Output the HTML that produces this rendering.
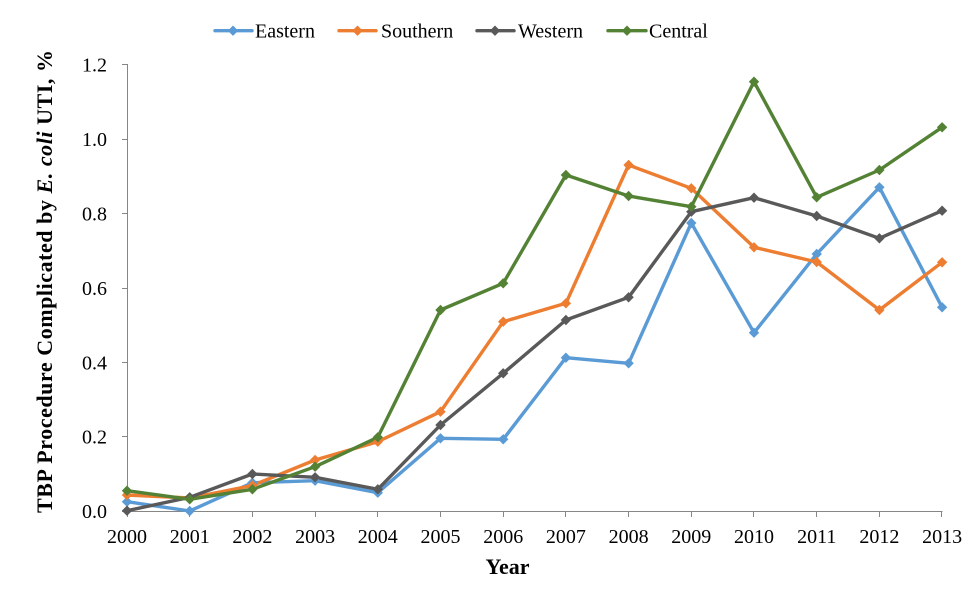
<!DOCTYPE html>
<html>
<head>
<meta charset="utf-8">
<style>
html,body{margin:0;padding:0;background:#fff;}
svg{display:block;}
text{font-family:"Liberation Serif","Times New Roman",serif;fill:#000;}
</style>
</head>
<body>
<svg width="975" height="616" viewBox="0 0 975 616" xmlns="http://www.w3.org/2000/svg">
<defs>
<path id="dm" d="M0,-5.2 L5.2,0 L0,5.2 L-5.2,0 Z"/>
</defs>
<rect width="975" height="616" fill="#fff"/>

<!-- axes -->
<g stroke="#868686" stroke-width="1" fill="none" shape-rendering="crispEdges">
<line x1="127.5" y1="64" x2="127.5" y2="511.5"/>
<line x1="127" y1="511.5" x2="942.5" y2="511.5"/>
<line x1="122" y1="64.5" x2="127" y2="64.5"/>
<line x1="122" y1="139.5" x2="127" y2="139.5"/>
<line x1="122" y1="213.5" x2="127" y2="213.5"/>
<line x1="122" y1="288.5" x2="127" y2="288.5"/>
<line x1="122" y1="362.5" x2="127" y2="362.5"/>
<line x1="122" y1="436.5" x2="127" y2="436.5"/>
<line x1="122" y1="511.5" x2="127" y2="511.5"/>
<line x1="127.5" y1="511" x2="127.5" y2="517"/>
<line x1="189.5" y1="511" x2="189.5" y2="517"/>
<line x1="252.5" y1="511" x2="252.5" y2="517"/>
<line x1="315.5" y1="511" x2="315.5" y2="517"/>
<line x1="377.5" y1="511" x2="377.5" y2="517"/>
<line x1="440.5" y1="511" x2="440.5" y2="517"/>
<line x1="503.5" y1="511" x2="503.5" y2="517"/>
<line x1="565.5" y1="511" x2="565.5" y2="517"/>
<line x1="628.5" y1="511" x2="628.5" y2="517"/>
<line x1="691.5" y1="511" x2="691.5" y2="517"/>
<line x1="753.5" y1="511" x2="753.5" y2="517"/>
<line x1="816.5" y1="511" x2="816.5" y2="517"/>
<line x1="879.5" y1="511" x2="879.5" y2="517"/>
<line x1="941.5" y1="511" x2="941.5" y2="517"/>
</g>

<!-- y tick labels -->
<g font-size="20" text-anchor="end">
<text x="107" y="71.5">1.2</text>
<text x="107" y="146">1.0</text>
<text x="107" y="220.5">0.8</text>
<text x="107" y="295">0.6</text>
<text x="107" y="369.5">0.4</text>
<text x="107" y="443.5">0.2</text>
<text x="107" y="518">0.0</text>
</g>

<!-- x tick labels -->
<g font-size="20" text-anchor="middle">
<text x="127" y="543">2000</text>
<text x="189.7" y="543">2001</text>
<text x="252.4" y="543">2002</text>
<text x="315.1" y="543">2003</text>
<text x="377.8" y="543">2004</text>
<text x="440.5" y="543">2005</text>
<text x="503.2" y="543">2006</text>
<text x="565.9" y="543">2007</text>
<text x="628.6" y="543">2008</text>
<text x="691.3" y="543">2009</text>
<text x="754" y="543">2010</text>
<text x="816.7" y="543">2011</text>
<text x="879.4" y="543">2012</text>
<text x="942.1" y="543">2013</text>
</g>

<!-- axis titles -->
<text x="507.5" y="574" font-size="22" font-weight="bold" text-anchor="middle">Year</text>
<text transform="translate(52,281.5) rotate(-90)" font-size="22" font-weight="bold" text-anchor="middle" textLength="463" lengthAdjust="spacing">TBP Procedure Complicated by <tspan font-style="italic">E. coli</tspan>  UTI, %</text>

<!-- series -->
<g fill="none" stroke-width="3.4" stroke-linejoin="round" stroke-linecap="round">
<polyline stroke="#5B9BD5" points="127,501.7 189.7,511 252.4,482.7 315.1,480.7 377.8,492.7 440.5,438.3 503.2,439.3 565.9,357.7 628.6,363.3 691.3,223 754,332.7 816.7,254 879.4,187.3 942.1,307.3"/>
<polyline stroke="#ED7D31" points="127,495 189.7,498 252.4,485.5 315.1,460 377.8,441.7 440.5,411.7 503.2,321.7 565.9,303.3 628.6,165 691.3,188.3 754,247.3 816.7,262 879.4,310 942.1,262.3"/>
<polyline stroke="#595959" points="127,510.7 189.7,497.3 252.4,474 315.1,477.3 377.8,489.3 440.5,425 503.2,373.3 565.9,320 628.6,297.3 691.3,211.7 754,197.7 816.7,216 879.4,238.3 942.1,210.7"/>
<polyline stroke="#548235" points="127,490.7 189.7,499.3 252.4,489.3 315.1,466.7 377.8,437.3 440.5,310 503.2,283.3 565.9,175 628.6,196 691.3,206.7 754,81.7 816.7,197.3 879.4,170 942.1,127.3"/>
</g>

<!-- markers -->
<g fill="#5B9BD5">
<use href="#dm" x="127" y="501.7"/><use href="#dm" x="189.7" y="511"/><use href="#dm" x="252.4" y="482.7"/><use href="#dm" x="315.1" y="480.7"/><use href="#dm" x="377.8" y="492.7"/><use href="#dm" x="440.5" y="438.3"/><use href="#dm" x="503.2" y="439.3"/><use href="#dm" x="565.9" y="357.7"/><use href="#dm" x="628.6" y="363.3"/><use href="#dm" x="691.3" y="223"/><use href="#dm" x="754" y="332.7"/><use href="#dm" x="816.7" y="254"/><use href="#dm" x="879.4" y="187.3"/><use href="#dm" x="942.1" y="307.3"/>
</g>
<g fill="#ED7D31">
<use href="#dm" x="127" y="495"/><use href="#dm" x="189.7" y="498"/><use href="#dm" x="252.4" y="485.5"/><use href="#dm" x="315.1" y="460"/><use href="#dm" x="377.8" y="441.7"/><use href="#dm" x="440.5" y="411.7"/><use href="#dm" x="503.2" y="321.7"/><use href="#dm" x="565.9" y="303.3"/><use href="#dm" x="628.6" y="165"/><use href="#dm" x="691.3" y="188.3"/><use href="#dm" x="754" y="247.3"/><use href="#dm" x="816.7" y="262"/><use href="#dm" x="879.4" y="310"/><use href="#dm" x="942.1" y="262.3"/>
</g>
<g fill="#595959">
<use href="#dm" x="127" y="510.7"/><use href="#dm" x="189.7" y="497.3"/><use href="#dm" x="252.4" y="474"/><use href="#dm" x="315.1" y="477.3"/><use href="#dm" x="377.8" y="489.3"/><use href="#dm" x="440.5" y="425"/><use href="#dm" x="503.2" y="373.3"/><use href="#dm" x="565.9" y="320"/><use href="#dm" x="628.6" y="297.3"/><use href="#dm" x="691.3" y="211.7"/><use href="#dm" x="754" y="197.7"/><use href="#dm" x="816.7" y="216"/><use href="#dm" x="879.4" y="238.3"/><use href="#dm" x="942.1" y="210.7"/>
</g>
<g fill="#548235">
<use href="#dm" x="127" y="490.7"/><use href="#dm" x="189.7" y="499.3"/><use href="#dm" x="252.4" y="489.3"/><use href="#dm" x="315.1" y="466.7"/><use href="#dm" x="377.8" y="437.3"/><use href="#dm" x="440.5" y="310"/><use href="#dm" x="503.2" y="283.3"/><use href="#dm" x="565.9" y="175"/><use href="#dm" x="628.6" y="196"/><use href="#dm" x="691.3" y="206.7"/><use href="#dm" x="754" y="81.7"/><use href="#dm" x="816.7" y="197.3"/><use href="#dm" x="879.4" y="170"/><use href="#dm" x="942.1" y="127.3"/>
</g>

<!-- legend -->
<g stroke-width="3.4" stroke-linecap="round">
<line x1="215" y1="30.7" x2="252" y2="30.7" stroke="#5B9BD5"/>
<line x1="339" y1="30.7" x2="376" y2="30.7" stroke="#ED7D31"/>
<line x1="477" y1="30.7" x2="514" y2="30.7" stroke="#595959"/>
<line x1="608" y1="30.7" x2="646" y2="30.7" stroke="#548235"/>
</g>
<use href="#dm" x="233" y="30.7" fill="#5B9BD5"/>
<use href="#dm" x="357.5" y="30.7" fill="#ED7D31"/>
<use href="#dm" x="495" y="30.7" fill="#595959"/>
<use href="#dm" x="627" y="30.7" fill="#548235"/>
<g font-size="20">
<text x="255" y="37.7">Eastern</text>
<text x="381" y="37.7">Southern</text>
<text x="518" y="37.7">Western</text>
<text x="649" y="37.7">Central</text>
</g>
</svg>
</body>
</html>
